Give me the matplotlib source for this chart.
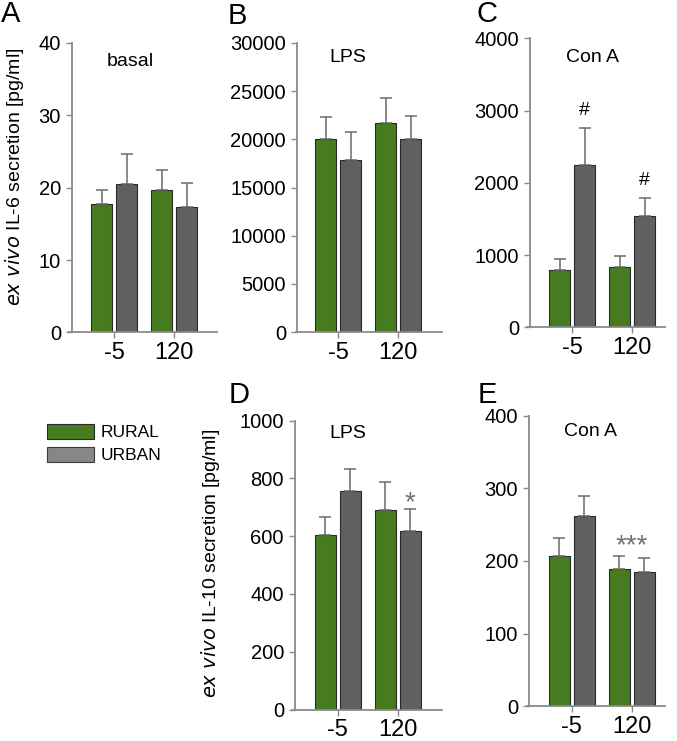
import matplotlib
matplotlib.use("Agg")
import matplotlib.pyplot as plt
from matplotlib.patches import Patch

plt.rcParams["font.family"] = ["Liberation Sans", "DejaVu Sans"]

# 時点（分）
groups = ["-5", "120"]

# IL-6 (A: basal, B: LPS, C: Con A)
il6_basal_rural = [17.7, 19.7]
il6_basal_rural_err = [2.0, 2.7]
il6_basal_urban = [20.5, 17.3]
il6_basal_urban_err = [4.1, 3.4]

il6_lps_rural = [20000, 21700]
il6_lps_rural_err = [2300, 2550]
il6_lps_urban = [17850, 20000]
il6_lps_urban_err = [2870, 2420]

il6_cona_rural = [790, 830]
il6_cona_rural_err = [152, 158]
il6_cona_urban = [2240, 1535]
il6_cona_urban_err = [525, 255]

# IL-10 (D: LPS, E: Con A)
il10_lps_rural = [603, 691]
il10_lps_rural_err = [65, 96]
il10_lps_urban = [758, 619]
il10_lps_urban_err = [74, 75]

il10_cona_rural = [207, 188.5]
il10_cona_rural_err = [24, 18.5]
il10_cona_urban = [262, 184.5]
il10_cona_urban_err = [28, 19.5]

GREEN = "#477b20"
DARK = "#606060"
LEGEND_GRAY = "#878787"
SPINE = "#8a8a8a"

W, H = 677, 741
PX_PER_GROUP = 60.0

fig = plt.figure(figsize=(W / 100, H / 100), dpi=100)


def make_axes(left, right, top, bottom, tick0, spine_x):
    """ピクセル指定で軸を作る"""
    ax = fig.add_axes([left / W, 1 - bottom / H, (right - left) / W, (bottom - top) / H])
    ax.set_xlim((left - tick0) / PX_PER_GROUP, (right - tick0) / PX_PER_GROUP)
    ax.spines["left"].set_position(("data", (spine_x - tick0) / PX_PER_GROUP))
    for s in ("top", "right"):
        ax.spines[s].set_visible(False)
    for s in ("left", "bottom"):
        ax.spines[s].set_color(SPINE)
        ax.spines[s].set_linewidth(1.3)
    ax.tick_params(axis="y", direction="out", length=4, width=1, color=SPINE,
                   labelsize=14.5, pad=4)
    ax.tick_params(axis="x", direction="out", length=4, width=1, color=SPINE,
                   labelsize=17, pad=3)
    ax.set_xticks([0, 1])
    ax.set_xticklabels(groups)
    return ax


def draw_bars(ax, rural, rural_err, urban, urban_err):
    off = 12.5 / PX_PER_GROUP
    bw = 21 / PX_PER_GROUP
    ekw = dict(ecolor="#6a6a6a", elinewidth=1.1, capsize=4, capthick=1.1)
    x = [0, 1]
    ax.bar([i - off for i in x], rural, width=bw, color=GREEN, edgecolor="#2a2a2a",
           linewidth=0.8, yerr=[[0] * 2, rural_err], error_kw=ekw, zorder=2)
    ax.bar([i + off for i in x], urban, width=bw, color=DARK, edgecolor="#2a2a2a",
           linewidth=0.8, yerr=[[0] * 2, urban_err], error_kw=ekw, zorder=2)
    return off


def panel_text(ax, letter, title, lx, ly, tx, ty):
    fig.text(lx / W, 1 - ly / H, letter, fontsize=21, ha="left", va="top")
    fig.text(tx / W, 1 - ty / H, title, fontsize=14, ha="center", va="center")


# A
axA = make_axes(69, 217, 43, 332.5, 114.3, 72)
draw_bars(axA, il6_basal_rural, il6_basal_rural_err, il6_basal_urban, il6_basal_urban_err)
axA.set_ylim(0, 40)
axA.set_yticks([0, 10, 20, 30, 40])
panel_text(axA, "A", "basal", 1, 0, 130, 61)
fig.text(15 / W, 1 - 177 / H, r"$\it{ex\ vivo}$ IL-6 secretion [pg/ml]", rotation=90,
         fontsize=14, ha="center", va="center")

# B
axB = make_axes(296, 442, 43, 332, 338.3, 297)
draw_bars(axB, il6_lps_rural, il6_lps_rural_err, il6_lps_urban, il6_lps_urban_err)
axB.set_ylim(0, 30000)
axB.set_yticks([0, 5000, 10000, 15000, 20000, 25000, 30000])
panel_text(axB, "B", "LPS", 228, 2, 348, 57)

# C
axC = make_axes(527, 665, 38.3, 327.3, 572.3, 530)
off = draw_bars(axC, il6_cona_rural, il6_cona_rural_err, il6_cona_urban, il6_cona_urban_err)
axC.set_ylim(0, 4000)
axC.set_yticks([0, 1000, 2000, 3000, 4000])
panel_text(axC, "C", "Con A", 477, 0, 592, 58)
for i in range(2):
    axC.text(i + off, il6_cona_urban[i] + il6_cona_urban_err[i] + 240, "#",
             fontsize=14, ha="center", va="center")

# D
axD = make_axes(292, 442, 420.7, 709.5, 337.7, 295)
off = draw_bars(axD, il10_lps_rural, il10_lps_rural_err, il10_lps_urban, il10_lps_urban_err)
axD.set_ylim(0, 1000)
axD.set_yticks([0, 200, 400, 600, 800, 1000])
panel_text(axD, "D", "LPS", 229, 381, 348, 434)
axD.text(1 + off, il10_lps_urban[1] + il10_lps_urban_err[1] + 20, "*", fontsize=20,
         color="#707070", ha="center", va="center")
fig.text(210 / W, 1 - 563 / H, r"$\it{ex\ vivo}$ IL-10 secretion [pg/ml]", rotation=90,
         fontsize=14, ha="center", va="center")

# E
axE = make_axes(527, 665, 415.6, 706.4, 571.5, 529)
off = draw_bars(axE, il10_cona_rural, il10_cona_rural_err, il10_cona_urban, il10_cona_urban_err)
axE.set_ylim(0, 400)
axE.set_yticks([0, 100, 200, 300, 400])
panel_text(axE, "E", "Con A", 478, 381, 590, 432)
axE.text(1, il10_cona_urban[1] + il10_cona_urban_err[1] + 16, "***", fontsize=20,
         color="#707070", ha="center", va="center")

# 凡例
handles = [Patch(facecolor=GREEN, edgecolor="#2a2a2a", linewidth=0.8),
           Patch(facecolor=LEGEND_GRAY, edgecolor="#3a3a3a", linewidth=0.8)]
fig.legend(handles, ["RURAL", "URBAN"], loc="upper left",
           bbox_to_anchor=(47 / W, 1 - 424 / H), frameon=False, fontsize=12.5,
           handlelength=2.7, handleheight=0.95, handletextpad=0.4,
           labelspacing=0.35, borderpad=0, borderaxespad=0)

fig.savefig("out.png", dpi=100)
